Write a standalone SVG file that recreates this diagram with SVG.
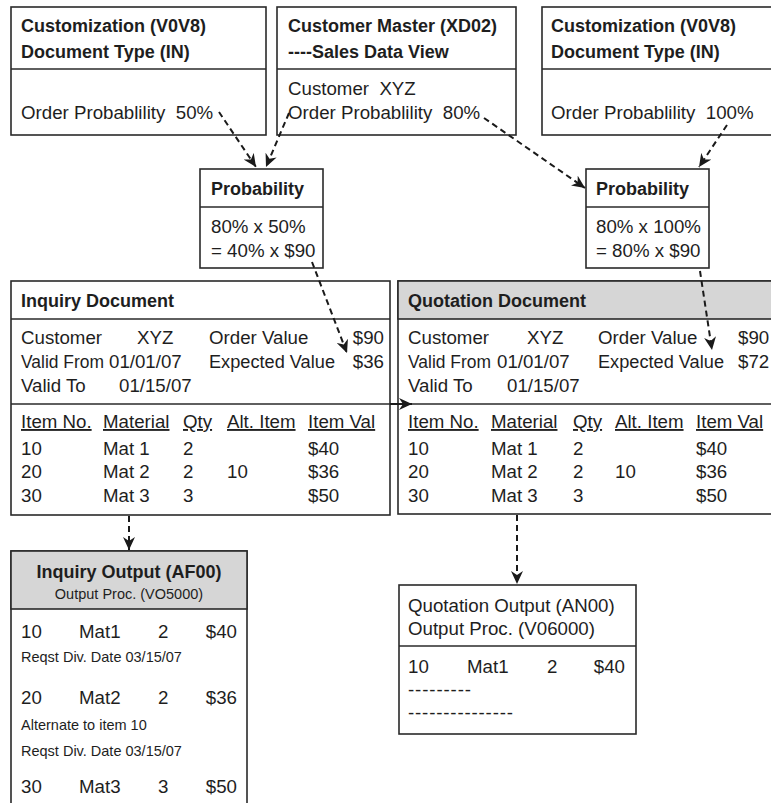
<svg xmlns="http://www.w3.org/2000/svg" width="771" height="803" viewBox="0 0 771 803">
  <style>
    .box { fill: #fff; stroke: #2a2a2a; stroke-width: 1.6; }
    .hdr { fill: #d6d6d6; stroke: #2a2a2a; stroke-width: 1.6; }
    .div { stroke: #2a2a2a; stroke-width: 1.6; }
    text { white-space: pre; }
    .b { font-family: "Liberation Sans", Arial, sans-serif; font-weight: bold; font-size: 18px; fill: #1e1e1e; }
    .r { font-family: "Liberation Sans", Arial, sans-serif; font-size: 18.7px; fill: #1e1e1e; }
    .s { font-family: "Liberation Sans", Arial, sans-serif; font-size: 14.5px; fill: #1e1e1e; }
    .u { text-decoration: underline; }
    .dash { fill: none; stroke: #1a1a1a; stroke-width: 2; stroke-dasharray: 6 4; }
    .solid { fill: none; stroke: #1a1a1a; stroke-width: 2; }
  </style>
  <defs>
    <marker id="arrow" markerUnits="userSpaceOnUse" markerWidth="14" markerHeight="12" refX="13" refY="6" orient="auto">
      <path d="M0,0 L13,6 L0,12 L4,6 Z" fill="#1a1a1a"/>
    </marker>
  </defs>

  <rect width="771" height="803" fill="#fff"/>

  <!-- document type setting, left -->
  <g id="cust-left">
    <rect class="box" x="11" y="7" width="255" height="128"/>
    <line class="div" x1="11" y1="69" x2="266" y2="69"/>
    <text class="b" x="21" y="32">Customization (V0V8)</text>
    <text class="b" x="21" y="58">Document Type (IN)</text>
    <text class="r" x="21" y="119">Order Probablility  50%</text>
  </g>

  <!-- customer master -->
  <g id="cust-master">
    <rect class="box" x="277" y="7" width="239" height="128"/>
    <line class="div" x1="277" y1="69" x2="516" y2="69"/>
    <text class="b" x="288" y="32">Customer Master (XD02)</text>
    <text class="b" x="288" y="58">----Sales Data View</text>
    <text class="r" x="288" y="95">Customer  XYZ</text>
    <text class="r" x="288" y="119">Order Probablility  80%</text>
  </g>

  <!-- document type setting, right -->
  <g id="cust-right">
    <rect class="box" x="542" y="7" width="240" height="128"/>
    <line class="div" x1="542" y1="69" x2="782" y2="69"/>
    <text class="b" x="551" y="32">Customization (V0V8)</text>
    <text class="b" x="551" y="58">Document Type (IN)</text>
    <text class="r" x="551" y="119">Order Probablility  100%</text>
  </g>

  <!-- probability calculations -->
  <g id="prob-left">
    <rect class="box" x="200" y="169" width="123" height="99"/>
    <line class="div" x1="200" y1="207" x2="323" y2="207"/>
    <text class="b" x="211" y="195">Probability</text>
    <text class="r" x="211" y="233">80% x 50%</text>
    <text class="r" x="211" y="257">= 40% x $90</text>
  </g>
  <g id="prob-right">
    <rect class="box" x="586" y="169" width="123" height="99"/>
    <line class="div" x1="586" y1="207" x2="709" y2="207"/>
    <text class="b" x="596" y="195">Probability</text>
    <text class="r" x="596" y="233">80% x 100%</text>
    <text class="r" x="596" y="257">= 80% x $90</text>
  </g>

  <!-- inquiry document -->
  <g id="inquiry-doc">
    <rect class="box" x="11" y="281" width="379" height="234"/>
    <line class="div" x1="11" y1="319" x2="390" y2="319"/>
    <line class="div" x1="11" y1="404" x2="390" y2="404"/>
    <text class="b" x="21" y="307">Inquiry Document</text>
    <text class="r" x="21" y="344">Customer</text>
    <text class="r" x="137" y="344">XYZ</text>
    <text class="r" x="209" y="344">Order Value</text>
    <text class="r" x="384" y="344" text-anchor="end">$90</text>
    <text class="r" x="21" y="368" textLength="83" lengthAdjust="spacingAndGlyphs">Valid From</text>
    <text class="r" x="109" y="368">01/01/07</text>
    <text class="r" x="209" y="368" textLength="126" lengthAdjust="spacingAndGlyphs">Expected Value</text>
    <text class="r" x="384" y="368" text-anchor="end">$36</text>
    <text class="r" x="21" y="392">Valid To</text>
    <text class="r" x="119" y="392">01/15/07</text>
    <text class="r u" x="21" y="428">Item No.</text>
    <text class="r u" x="103" y="428">Material</text>
    <text class="r u" x="183" y="428">Qty</text>
    <text class="r u" x="227" y="428">Alt. Item</text>
    <text class="r u" x="308" y="428">Item Val</text>
    <text class="r" x="21" y="455">10</text>
    <text class="r" x="103" y="455">Mat 1</text>
    <text class="r" x="183" y="455">2</text>
    <text class="r" x="308" y="455">$40</text>
    <text class="r" x="21" y="478">20</text>
    <text class="r" x="103" y="478">Mat 2</text>
    <text class="r" x="183" y="478">2</text>
    <text class="r" x="227" y="478">10</text>
    <text class="r" x="308" y="478">$36</text>
    <text class="r" x="21" y="502">30</text>
    <text class="r" x="103" y="502">Mat 3</text>
    <text class="r" x="183" y="502">3</text>
    <text class="r" x="308" y="502">$50</text>
  </g>

  <!-- quotation document -->
  <g id="quotation-doc">
    <rect class="box" x="398" y="281" width="384" height="233"/>
    <rect class="hdr" x="398" y="281" width="384" height="38"/>
    <line class="div" x1="398" y1="404" x2="782" y2="404"/>
    <text class="b" x="408" y="307">Quotation Document</text>
    <text class="r" x="408" y="344">Customer</text>
    <text class="r" x="527" y="344">XYZ</text>
    <text class="r" x="598" y="344">Order Value</text>
    <text class="r" x="738" y="344">$90</text>
    <text class="r" x="408" y="368" textLength="83" lengthAdjust="spacingAndGlyphs">Valid From</text>
    <text class="r" x="497" y="368">01/01/07</text>
    <text class="r" x="598" y="368" textLength="126" lengthAdjust="spacingAndGlyphs">Expected Value</text>
    <text class="r" x="738" y="368">$72</text>
    <text class="r" x="408" y="392">Valid To</text>
    <text class="r" x="507" y="392">01/15/07</text>
    <text class="r u" x="408" y="428">Item No.</text>
    <text class="r u" x="491" y="428">Material</text>
    <text class="r u" x="573" y="428">Qty</text>
    <text class="r u" x="615" y="428">Alt. Item</text>
    <text class="r u" x="696" y="428">Item Val</text>
    <text class="r" x="408" y="455">10</text>
    <text class="r" x="491" y="455">Mat 1</text>
    <text class="r" x="573" y="455">2</text>
    <text class="r" x="696" y="455">$40</text>
    <text class="r" x="408" y="478">20</text>
    <text class="r" x="491" y="478">Mat 2</text>
    <text class="r" x="573" y="478">2</text>
    <text class="r" x="615" y="478">10</text>
    <text class="r" x="696" y="478">$36</text>
    <text class="r" x="408" y="502">30</text>
    <text class="r" x="491" y="502">Mat 3</text>
    <text class="r" x="573" y="502">3</text>
    <text class="r" x="696" y="502">$50</text>
  </g>

  <!-- inquiry output -->
  <g id="inquiry-output">
    <rect class="box" x="11" y="551" width="236" height="270"/>
    <rect class="hdr" x="11" y="551" width="236" height="58"/>
    <text class="b" x="129" y="578" text-anchor="middle">Inquiry Output (AF00)</text>
    <text class="s" x="129" y="599" text-anchor="middle">Output Proc. (VO5000)</text>
    <text class="r" x="21" y="638">10</text>
    <text class="r" x="79" y="638">Mat1</text>
    <text class="r" x="158" y="638">2</text>
    <text class="r" x="237" y="638" text-anchor="end">$40</text>
    <text class="s" x="21" y="662">Reqst Div. Date 03/15/07</text>
    <text class="r" x="21" y="704">20</text>
    <text class="r" x="79" y="704">Mat2</text>
    <text class="r" x="158" y="704">2</text>
    <text class="r" x="237" y="704" text-anchor="end">$36</text>
    <text class="s" x="21" y="730">Alternate to item 10</text>
    <text class="s" x="21" y="756">Reqst Div. Date 03/15/07</text>
    <text class="r" x="21" y="793">30</text>
    <text class="r" x="79" y="793">Mat3</text>
    <text class="r" x="158" y="793">3</text>
    <text class="r" x="237" y="793" text-anchor="end">$50</text>
  </g>

  <!-- quotation output -->
  <g id="quotation-output">
    <rect class="box" x="399" y="585" width="237" height="149"/>
    <line class="div" x1="399" y1="646" x2="636" y2="646"/>
    <text class="r" x="408" y="612">Quotation Output (AN00)</text>
    <text class="r" x="408" y="635">Output Proc. (V06000)</text>
    <text class="r" x="408" y="673">10</text>
    <text class="r" x="467" y="673">Mat1</text>
    <text class="r" x="547" y="673">2</text>
    <text class="r" x="625" y="673" text-anchor="end">$40</text>
    <text class="r" x="408" y="696" textLength="63" lengthAdjust="spacing">---------</text>
    <text class="r" x="408" y="719" textLength="105" lengthAdjust="spacing">---------------</text>
  </g>

  <!-- connectors -->
  <g id="connectors">
    <line class="dash" x1="219" y1="112" x2="256" y2="167" marker-end="url(#arrow)"/>
    <line class="dash" x1="289" y1="113" x2="266" y2="167" marker-end="url(#arrow)"/>
    <line class="dash" x1="484" y1="118" x2="585" y2="188" marker-end="url(#arrow)"/>
    <line class="dash" x1="727" y1="125" x2="699" y2="167" marker-end="url(#arrow)"/>
    <line class="dash" x1="312" y1="262" x2="347" y2="353" marker-end="url(#arrow)"/>
    <line class="dash" x1="700" y1="271" x2="712" y2="350" marker-end="url(#arrow)"/>
    <line class="solid" x1="390" y1="404" x2="412" y2="404" marker-end="url(#arrow)"/>
    <line class="dash" x1="129" y1="516" x2="129" y2="550" marker-end="url(#arrow)"/>
    <line class="dash" x1="517" y1="515" x2="517" y2="584" marker-end="url(#arrow)"/>
  </g>
</svg>
